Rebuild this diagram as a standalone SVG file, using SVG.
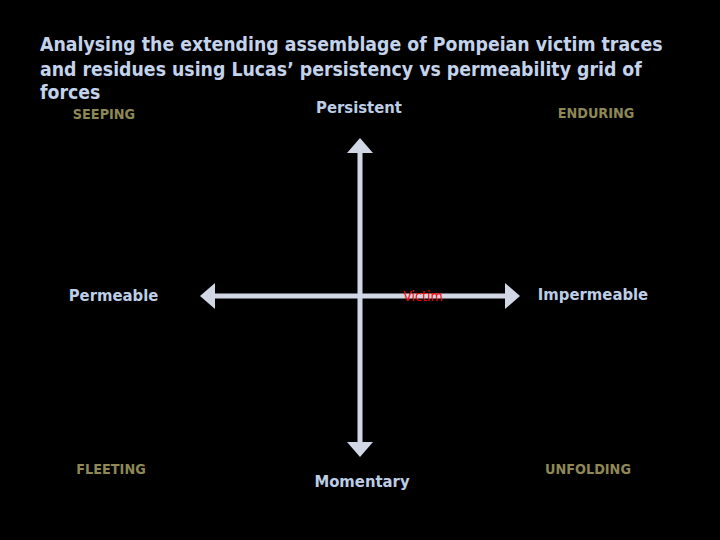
<svg xmlns="http://www.w3.org/2000/svg" width="720" height="540" viewBox="0 0 720 540">
  <style>
    text { font-family: "DejaVu Sans Condensed", "DejaVu Sans", sans-serif; font-stretch: condensed; }
    .title { font-size: 19.3px; font-weight: bold; fill: #C3D3EB; }
    .axis { font-size: 16.5px; font-weight: bold; fill: #BCCDE6; text-anchor: middle; }
    .quad { font-size: 14.3px; font-weight: bold; fill: #8E8756; text-anchor: middle; }
    .arrow { fill: #D1D7E5; }
    .victim { font-size: 14px; fill: #FF0000; text-anchor: middle; }
  </style>
  <rect width="720" height="540" fill="#000000"/>

  <g id="title">
    <text class="title" x="40" y="51">Analysing the extending assemblage of Pompeian victim traces</text>
    <text class="title" x="40" y="76">and residues using Lucas’ persistency vs permeability grid of</text>
    <text class="title" x="40" y="99">forces</text>
  </g>

  <g id="connectors">
    <!-- horizontal double arrow -->
    <rect class="arrow" x="213" y="293.5" width="295" height="5"/>
    <polygon class="arrow" points="200,296 215,283 215,309"/>
    <polygon class="arrow" points="520,296 505,283 505,309"/>
    <!-- vertical double arrow -->
    <rect class="arrow" x="357.5" y="150" width="5" height="295"/>
    <polygon class="arrow" points="360,138 347,153 373,153"/>
    <polygon class="arrow" points="360,457 347,442 373,442"/>
  </g>

  <g id="persistent"><text class="axis" x="359" y="113">Persistent</text></g>
  <g id="momentary"><text class="axis" x="362" y="487">Momentary</text></g>
  <g id="permeable"><text class="axis" x="113.5" y="301">Permeable</text></g>
  <g id="impermeable"><text class="axis" x="593" y="300">Impermeable</text></g>

  <g id="seeping"><text class="quad" x="104" y="119">SEEPING</text></g>
  <g id="enduring"><text class="quad" x="596" y="118">ENDURING</text></g>
  <g id="fleeting"><text class="quad" x="111" y="474">FLEETING</text></g>
  <g id="unfolding"><text class="quad" x="588" y="474">UNFOLDING</text></g>

  <g id="victim"><text class="victim" x="423" y="300.5">Victim</text></g>
</svg>
